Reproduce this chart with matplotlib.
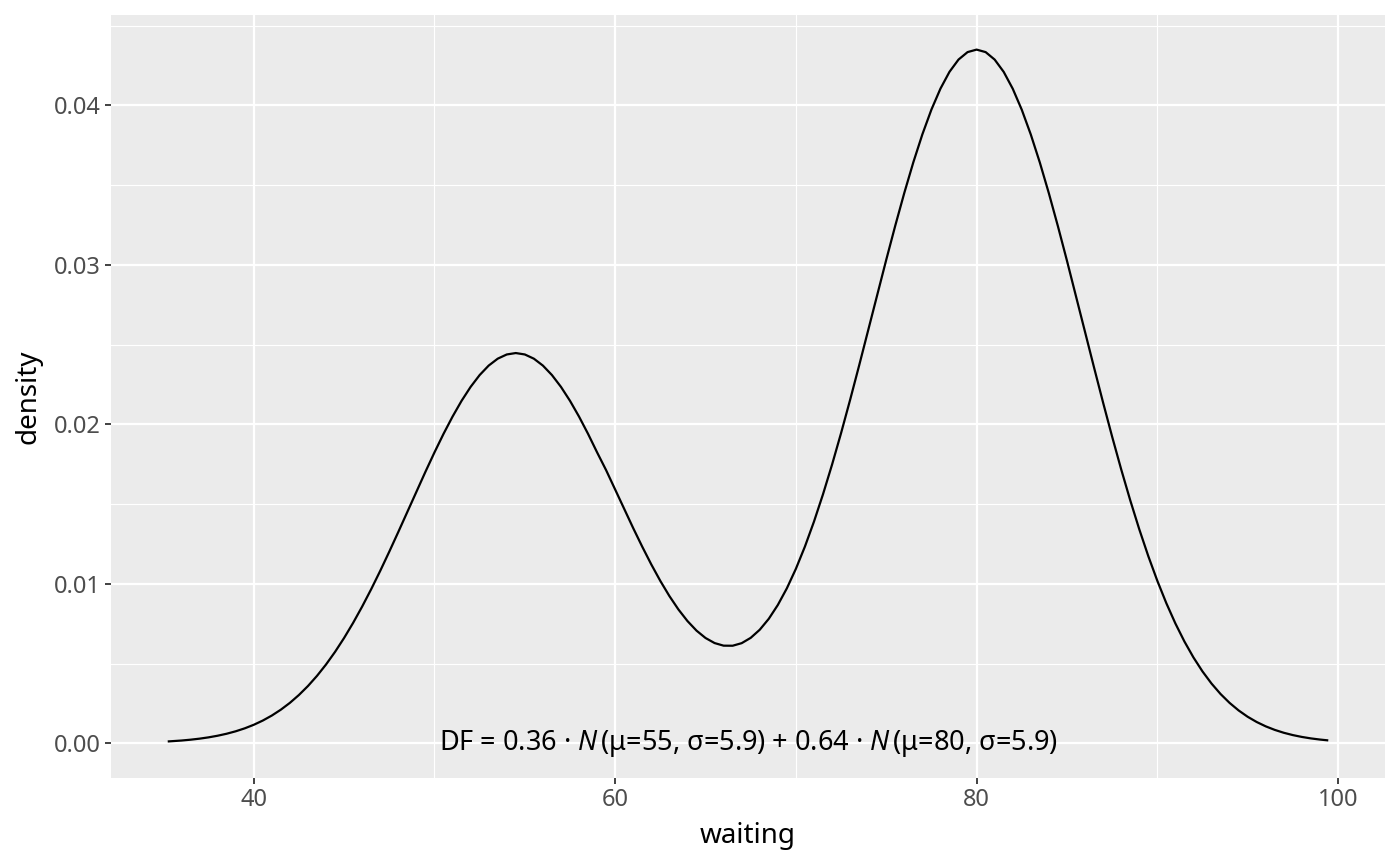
import matplotlib
matplotlib.use("Agg")
import matplotlib.pyplot as plt

# density curve (mixture of two normals), every half unit
waiting = [35.3, 35.5, 36, 36.5, 37, 37.5, 38, 38.5, 39, 39.5, 40, 40.5,
           41, 41.5, 42, 42.5, 43, 43.5, 44, 44.5, 45, 45.5, 46, 46.5,
           47, 47.5, 48, 48.5, 49, 49.5, 50, 50.5, 51, 51.5, 52, 52.5,
           53, 53.5, 54, 54.5, 55, 55.5, 56, 56.5, 57, 57.5, 58, 58.5,
           59, 59.5, 60, 60.5, 61, 61.5, 62, 62.5, 63, 63.5, 64, 64.5,
           65, 65.5, 66, 66.5, 67, 67.5, 68, 68.5, 69, 69.5, 70, 70.5,
           71, 71.5, 72, 72.5, 73, 73.5, 74, 74.5, 75, 75.5, 76, 76.5,
           77, 77.5, 78, 78.5, 79, 79.5, 80, 80.5, 81, 81.5, 82, 82.5,
           83, 83.5, 84, 84.5, 85, 85.5, 86, 86.5, 87, 87.5, 88, 88.5,
           89, 89.5, 90, 90.5, 91, 91.5, 92, 92.5, 93, 93.5, 94, 94.5,
           95, 95.5, 96, 96.5, 97, 97.5, 98, 98.5, 99, 99.4]
density = [0.000116, 0.000130, 0.000170, 0.000222, 0.000287, 0.000369,
           0.000471, 0.000596, 0.000749, 0.000934, 0.001157, 0.001423,
           0.001737, 0.002106, 0.002533, 0.003027, 0.003589, 0.004226,
           0.004940, 0.005732, 0.006604, 0.007552, 0.008575, 0.009665,
           0.010815, 0.012017, 0.013253, 0.014512, 0.015775, 0.017024,
           0.018239, 0.019400, 0.020484, 0.021474, 0.022348, 0.023090,
           0.023684, 0.024117, 0.024381, 0.024470, 0.024381, 0.024117,
           0.023684, 0.023090, 0.022348, 0.021474, 0.020484, 0.019400,
           0.018239, 0.017121, 0.015906, 0.014686, 0.013484, 0.012320,
           0.011210, 0.010176, 0.009231, 0.008389, 0.007663, 0.007063,
           0.006600, 0.006283, 0.006119, 0.006115, 0.006276, 0.006610,
           0.007118, 0.007804, 0.008670, 0.009715, 0.010939, 0.012335,
           0.013896, 0.015612, 0.017468, 0.019449, 0.021532, 0.023690,
           0.025895, 0.028116, 0.030318, 0.032464, 0.034516, 0.036437,
           0.038188, 0.039739, 0.041053, 0.042108, 0.042876, 0.043343,
           0.043500, 0.043343, 0.042873, 0.042102, 0.041046, 0.039728,
           0.038173, 0.036415, 0.034486, 0.032423, 0.030263, 0.028042,
           0.025797, 0.023560, 0.021362, 0.019227, 0.017181, 0.015243,
           0.013425, 0.011739, 0.010190, 0.008781, 0.007513, 0.006381,
           0.005381, 0.004504, 0.003743, 0.003088, 0.002530, 0.002057,
           0.001660, 0.001331, 0.001059, 0.000837, 0.000656, 0.000511,
           0.000395, 0.000303, 0.000231, 0.000185]

x_ticks = [40, 60, 80, 100]
x_minor = [30, 50, 70, 90]
y_ticks = [0.00, 0.01, 0.02, 0.03, 0.04]
y_minor = [0.005, 0.015, 0.025, 0.035, 0.045]
label = r"DF = 0.36 · $\mathit{N}\,$(μ=55, σ=5.9) + 0.64 · $\mathit{N}\,$(μ=80, σ=5.9)"

plt.rcParams['font.family'] = ['Noto Sans', 'DejaVu Sans']
plt.rcParams['mathtext.fontset'] = 'custom'
plt.rcParams['mathtext.it'] = 'Noto Sans:italic'
plt.rcParams['mathtext.rm'] = 'Noto Sans'

fig = plt.figure(figsize=(14, 8.66), dpi=100)
ax = fig.add_axes([111 / 1400, 1 - 778 / 866, 1274 / 1400, 763 / 866])
ax.set_facecolor('#EBEBEB')
for s in ax.spines.values():
    s.set_visible(False)

ax.set_xticks(x_ticks)
ax.set_xticks(x_minor, minor=True)
ax.set_yticks(y_ticks)
ax.set_yticks(y_minor, minor=True)
ax.set_yticklabels(["%.2f" % v for v in y_ticks])
ax.grid(which='major', color='white', linewidth=1.6)
ax.grid(which='minor', color='white', linewidth=0.8)
ax.set_axisbelow(True)
ax.tick_params(which='major', length=4.5, width=1.3, color='#333333',
               labelsize=17, labelcolor='#4D4D4D', pad=3)
ax.tick_params(which='minor', length=0)

ax.plot(waiting, density, color='black', linewidth=1.6)
ax.text(67.4, 0.0, label, fontsize=19.5, ha='center', va='center')

ax.set_xlim(32.1, 102.6)
ax.set_ylim(-0.00218, 0.04567)
ax.set_xlabel("waiting", fontsize=20, labelpad=7)
ax.set_ylabel("density", fontsize=20, labelpad=8)

fig.savefig("out.png", dpi=100)
